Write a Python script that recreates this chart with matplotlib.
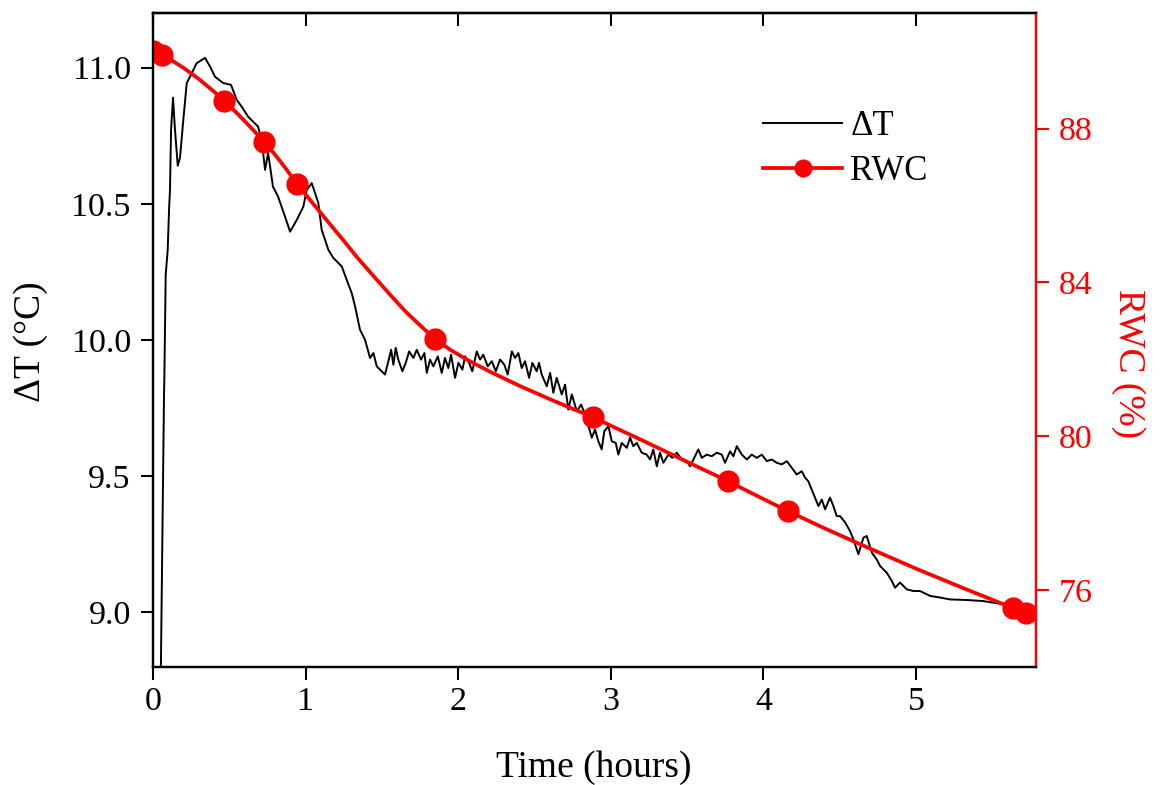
import numpy as np
import matplotlib
matplotlib.use("Agg")
import matplotlib.pyplot as plt
from matplotlib.lines import Line2D

plt.rcParams["font.family"] = ["Liberation Serif", "DejaVu Serif"]

# Delta T trace (hours, degC)
dt_time = [0.049, 0.072, 0.074, 0.083, 0.096, 0.105, 0.111, 0.118, 0.131, 0.144,
           0.162, 0.177, 0.197, 0.221, 0.254, 0.286, 0.341, 0.374, 0.406, 0.459,
           0.511, 0.548, 0.581, 0.623, 0.688, 0.712, 0.734, 0.754, 0.786, 0.819,
           0.865, 0.898, 0.942, 0.985, 1.007, 1.040, 1.083, 1.105, 1.149, 1.182,
           1.237, 1.269, 1.302, 1.324, 1.356, 1.389, 1.422, 1.444, 1.466, 1.499,
           1.520, 1.542, 1.560, 1.575, 1.590, 1.607, 1.634, 1.656, 1.678, 1.706,
           1.728, 1.756, 1.778, 1.794, 1.815, 1.837, 1.866, 1.892, 1.913, 1.935,
           1.953, 1.979, 2.001, 2.027, 2.045, 2.071, 2.092, 2.121, 2.143, 2.164,
           2.193, 2.220, 2.246, 2.274, 2.302, 2.324, 2.351, 2.372, 2.394, 2.416,
           2.438, 2.464, 2.486, 2.514, 2.529, 2.547, 2.580, 2.602, 2.623, 2.645,
           2.678, 2.700, 2.721, 2.744, 2.777, 2.805, 2.831, 2.853, 2.875, 2.896,
           2.918, 2.940, 2.957, 2.984, 3.006, 3.032, 3.049, 3.071, 3.104, 3.126,
           3.147, 3.170, 3.202, 3.235, 3.257, 3.278, 3.301, 3.322, 3.344, 3.377,
           3.403, 3.432, 3.465, 3.497, 3.519, 3.541, 3.573, 3.596, 3.628, 3.661,
           3.694, 3.727, 3.748, 3.781, 3.803, 3.825, 3.858, 3.891, 3.923, 3.956,
           3.989, 4.022, 4.054, 4.087, 4.120, 4.153, 4.185, 4.218, 4.251, 4.273,
           4.294, 4.316, 4.338, 4.360, 4.382, 4.404, 4.436, 4.458, 4.480, 4.502,
           4.535, 4.567, 4.589, 4.622, 4.655, 4.677, 4.710, 4.742, 4.764, 4.808,
           4.841, 4.862, 4.895, 4.939, 4.982, 5.026, 5.092, 5.157, 5.223, 5.332,
           5.441, 5.529, 5.594, 5.629]
dt_value = [8.68, 9.80, 9.854, 10.24, 10.33, 10.48, 10.55, 10.77, 10.89, 10.77,
            10.64, 10.67, 10.80, 10.944, 10.98, 11.017, 11.036, 11.004, 10.967, 10.944,
            10.937, 10.882, 10.857, 10.820, 10.784, 10.735, 10.625, 10.687, 10.563, 10.527,
            10.453, 10.398, 10.441, 10.490, 10.551, 10.576, 10.503, 10.405, 10.331, 10.301,
            10.270, 10.221, 10.172, 10.123, 10.038, 10.001, 9.934, 9.952, 9.903, 9.885,
            9.873, 9.922, 9.964, 9.909, 9.971, 9.928, 9.885, 9.916, 9.958, 9.934,
            9.964, 9.928, 9.952, 9.879, 9.928, 9.903, 9.940, 9.879, 9.934, 9.897,
            9.946, 9.861, 9.916, 9.891, 9.940, 9.916, 9.885, 9.958, 9.928, 9.946,
            9.903, 9.922, 9.885, 9.928, 9.909, 9.873, 9.958, 9.934, 9.952, 9.897,
            9.922, 9.861, 9.916, 9.885, 9.916, 9.873, 9.830, 9.879, 9.806, 9.861,
            9.800, 9.836, 9.744, 9.800, 9.738, 9.763, 9.726, 9.683, 9.641, 9.671,
            9.628, 9.598, 9.665, 9.683, 9.628, 9.622, 9.579, 9.622, 9.604, 9.641,
            9.610, 9.622, 9.586, 9.579, 9.561, 9.598, 9.536, 9.586, 9.549, 9.579,
            9.567, 9.586, 9.561, 9.555, 9.536, 9.561, 9.598, 9.567, 9.579, 9.573,
            9.586, 9.579, 9.549, 9.591, 9.573, 9.610, 9.579, 9.561, 9.579, 9.567,
            9.579, 9.555, 9.561, 9.549, 9.543, 9.555, 9.531, 9.506, 9.518, 9.494,
            9.481, 9.451, 9.421, 9.390, 9.414, 9.378, 9.421, 9.390, 9.353, 9.353,
            9.330, 9.298, 9.268, 9.213, 9.274, 9.280, 9.219, 9.194, 9.170, 9.145,
            9.115, 9.090, 9.109, 9.084, 9.078, 9.078, 9.060, 9.054, 9.047, 9.045,
            9.041, 9.033, 9.029, 9.026]

# RWC measurements (hours, %)
rwc_time = [0.0, 0.057, 0.465, 0.727, 0.946, 1.848, 2.885, 3.766, 4.159, 5.638, 5.719]
rwc_value = [90.03, 89.91, 88.73, 87.66, 86.55, 82.52, 80.49, 78.83, 78.05, 75.52, 75.39]

# smooth RWC line as drawn in the reference, read at many points
fit_time = [0.0, 0.1, 0.2, 0.3, 0.4, 0.465, 0.55, 0.64, 0.727, 0.8,
            0.87, 0.946, 1.05, 1.15, 1.25, 1.335, 1.45, 1.553, 1.65, 1.75,
            1.848, 1.95, 2.056, 2.2, 2.4, 2.6, 2.75, 2.885, 3.0, 3.2,
            3.4, 3.6, 3.766, 3.95, 4.159, 4.4, 4.7, 5.0, 5.3, 5.638, 5.719]
fit_value = [90.05, 89.83, 89.58, 89.29, 88.96, 88.73, 88.40, 88.03, 87.66, 87.32,
             86.96, 86.55, 86.04, 85.56, 85.08, 84.66, 84.14, 83.68, 83.26, 82.88,
             82.52, 82.24, 81.99, 81.69, 81.31, 80.96, 80.71, 80.49, 80.27, 79.90,
             79.52, 79.14, 78.83, 78.46, 78.05, 77.60, 77.07, 76.55, 76.06, 75.52, 75.39]

x_ticks = [0, 1, 2, 3, 4, 5]
dt_ticks = [9.0, 9.5, 10.0, 10.5, 11.0]
rwc_ticks = [76, 80, 84, 88]

fig = plt.figure(figsize=(11.62, 7.85), dpi=100)
ax = fig.add_axes([0.1317, 0.1507, 0.7599, 0.8324])
ax2 = ax.twinx()

ax.plot(dt_time, dt_value, color="black", lw=1.4)
ax2.plot(fit_time, fit_value, color="red", lw=2.7)
ax2.plot(rwc_time, rwc_value, "o", color="red", markersize=15)

ax.set_xlim(0, 5.786)
ax.set_ylim(8.8, 11.2)
ax2.set_ylim(74, 91)

ax.set_xticks(x_ticks)
ax.set_xticklabels([str(t) for t in x_ticks])
ax.set_yticks(dt_ticks)
ax.set_yticklabels(["%.1f" % t for t in dt_ticks])
ax2.set_yticks(rwc_ticks)
ax2.set_yticklabels([str(t) for t in rwc_ticks])

for sp in ax.spines.values():
    sp.set_linewidth(1.6)
for sp in ax2.spines.values():
    sp.set_linewidth(1.6)
ax2.spines["right"].set_color("red")

ax.tick_params(axis="x", direction="out", length=9, width=1.5, labelsize=24.5, pad=5)
ax.tick_params(axis="y", direction="out", length=9, width=1.5, labelsize=24.5, pad=7)
ax2.tick_params(axis="y", direction="out", length=9, width=1.5, labelsize=24.5, pad=7,
                colors="red")

top = ax.secondary_xaxis("top")
top.set_xticks(x_ticks)
top.tick_params(direction="in", length=9, width=1.5, labeltop=False)
top.spines["top"].set_linewidth(1.6)

fig.text(594 / 1162, 1 - 768 / 785, "Time (hours)", fontsize=27, ha="center", va="center")
fig.text(31 / 1162, 1 - 342 / 785, "ΔT (°C)", fontsize=27, rotation=90,
         ha="center", va="center")
fig.text(1128 / 1162, 1 - 364 / 785, "RWC (%)", fontsize=27, rotation=270,
         ha="center", va="center", color="red")

handles = [Line2D([], [], color="black", lw=1.4),
           Line2D([], [], color="red", lw=2.7, marker="o", markersize=12)]
ax2.legend(handles, ["ΔT", "RWC"], loc="upper left",
           bbox_to_anchor=(763 / 1162, 1 - 110 / 785), bbox_transform=fig.transFigure,
           frameon=False, fontsize=25, borderpad=0, borderaxespad=0,
           handlelength=2.28, handletextpad=0.23, labelspacing=0.34)

fig.savefig("out.png", dpi=100)
